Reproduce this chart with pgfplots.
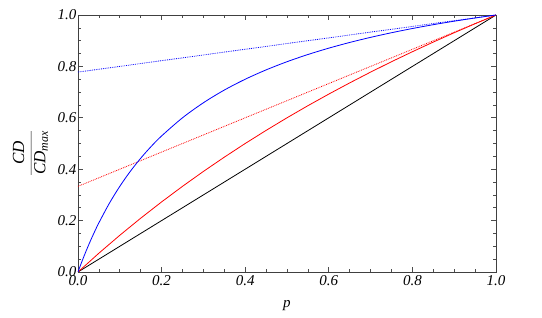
\documentclass[border=0pt]{standalone}
\usepackage{pgfplots}
\pgfplotsset{compat=1.18}
\usepackage{fontspec}
\setmainfont{Liberation Serif}
\begin{document}
\begin{tikzpicture}
\begin{axis}[
  at={(0pt,0pt)}, anchor=south west,
  scale only axis, width=418pt, height=257pt,
  xmin=0, xmax=1, ymin=0, ymax=1,
  xtick={0,0.2,...,1}, ytick={0,0.2,...,1},
  minor tick num=3,
  tick align=inside,
  major tick length=5pt, minor tick length=3pt,
  axis line style={black!75, line width=0.8pt},
  tick style={black!70, line width=0.6pt},
  font=\fontsize{15}{17}\selectfont,
  /pgf/number format/assume math mode=true,
  xticklabel={\textit{\pgfmathprintnumber[fixed,fixed zerofill,precision=1]{\tick}}},
  yticklabel={\textit{\pgfmathprintnumber[fixed,fixed zerofill,precision=1]{\tick}}},
  yticklabel style={xshift=2pt},
  xlabel={\textit{p}},
  every axis x label/.style={at={(axis description cs:0.5,-0.14)}, anchor=base},
  clip=true,
]
\addplot[black, line width=0.8pt] coordinates {(0,0) (1,1)};
\addplot[red, line width=0.8pt, densely dotted] coordinates {(0,0.3333) (1,1)};
\addplot[blue, line width=0.8pt, densely dotted] coordinates {(0,0.7778) (1,1)};
\addplot[red, line width=0.8pt] coordinates {
(0,0) (0.05,0.0732) (0.1,0.1429) (0.15,0.2093) (0.2,0.2727) (0.25,0.3333)
(0.3,0.3913) (0.35,0.4468) (0.4,0.5) (0.45,0.5510) (0.5,0.6) (0.55,0.6471)
(0.6,0.6923) (0.65,0.7358) (0.7,0.7778) (0.75,0.8182) (0.8,0.8571)
(0.85,0.8947) (0.9,0.9310) (0.95,0.9661) (1,1)};
\addplot[blue, line width=0.8pt, smooth] coordinates {
(0,0) (0.01,0.0435) (0.02,0.0841) (0.03,0.1222) (0.04,0.1579) (0.05,0.1915)
(0.075,0.2673) (0.1,0.3333) (0.125,0.3913) (0.15,0.4426) (0.175,0.4884)
(0.2,0.5294) (0.25,0.6) (0.3,0.6585) (0.35,0.7079) (0.4,0.75) (0.45,0.7864)
(0.5,0.8182) (0.55,0.8462) (0.6,0.8710) (0.65,0.8931) (0.7,0.9130)
(0.75,0.9310) (0.8,0.9474) (0.85,0.9623) (0.9,0.9759) (0.95,0.9884) (1,1)};
\end{axis}
\node[rotate=89.9, anchor=center, inner sep=0pt, font=\fontsize{17}{19}\selectfont\itshape] at (-47pt,119pt)
  {\begin{tabular}{@{}c@{}}CD\\[1pt]\hline\rule{0pt}{14pt}CD\textsubscript{max}\end{tabular}};
\path (-78pt,-46pt) rectangle (464pt,272pt);
\end{tikzpicture}
\end{document}
